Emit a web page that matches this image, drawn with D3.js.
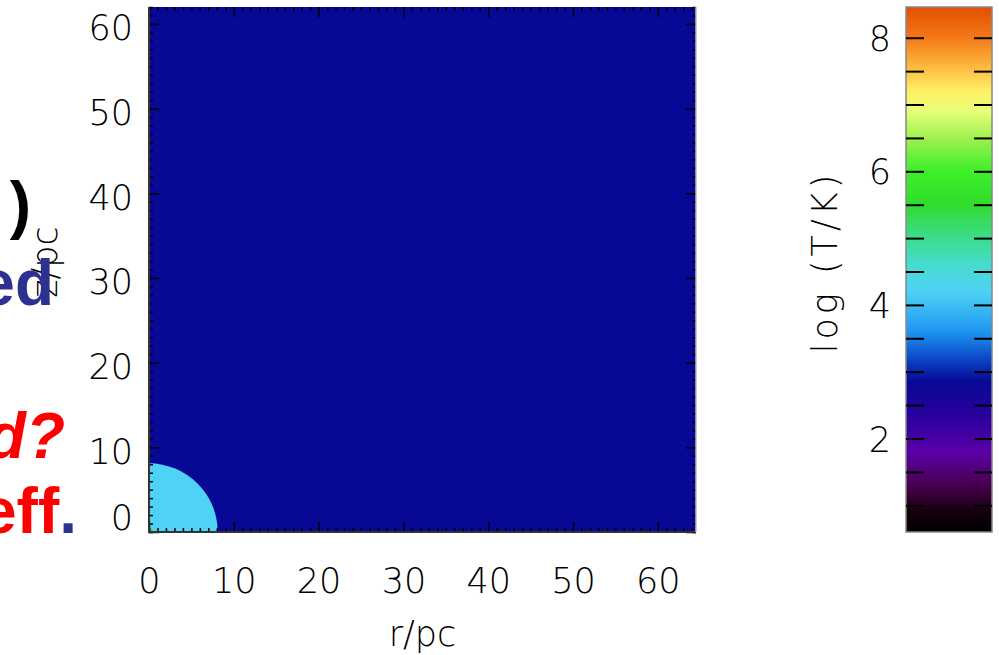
<!DOCTYPE html>
<html>
<head>
<meta charset="utf-8">
<script src="https://cdn.jsdelivr.net/npm/d3@7"></script>
<style>
  body { margin: 0; background: #fff; }
  .tk text { font-family: "DejaVu Sans", sans-serif; font-weight: 200; }
</style>
</head>
<body>
<div id="chart"></div>
<script>
// axis ticks and domains
var xTicks = [0, 10, 20, 30, 40, 50, 60];
var yTicks = [0, 10, 20, 30, 40, 50, 60];
var xDomain = [0, 64.5];
var yDomain = [0, 62];

// temperature field: ambient medium, cloud (quarter sphere), tiny hot core
var ambientLogT = 2.85;
var cloudRadius = 8.1;
var cloudLogT = 4.2;
var coreSize = 0.4;
var coreLogT = 5.6;

// colour bar
var cbDomain = [0.6, 8.46];
var cbTicks = [2, 4, 6, 8];
var cbStopValues = [0.6, 0.9, 1.3, 1.8, 2.3, 2.85, 3.2, 3.6, 4.2, 4.6, 5.0, 5.5, 6.0, 6.5, 6.9, 7.2, 7.6, 8.0, 8.46];
var cbStopColors = ["#000000", "#14000c", "#48004e", "#5a00a8", "#2c009e", "#080896", "#0a48c8",
  "#1e96f0", "#4ed2f5", "#46dcd0", "#3cdc8c", "#30dc2c", "#3cf028", "#a0f050", "#e6ff78",
  "#fff064", "#fcb43c", "#f57818", "#e05000"];

// slide text fragments at the left edge
var slideText = [
  { parts: [[")", "#000"]], x: 31, y: 227, italic: false },
  { parts: [["ed", "#2e3192"]], x: 54, y: 305, italic: false },
  { parts: [["d?", "#ff0000"]], x: 65, y: 458, italic: true },
  { parts: [["eff", "#ff0000"], [".", "#2e3192"]], x: 77, y: 533, italic: false }
];

var W = 999, H = 655;
var plot = { left: 149, right: 696, top: 7, bottom: 532 };
var cb = { left: 906, right: 992, top: 7, bottom: 532 };

var svg = d3.select("#chart").append("svg").attr("width", W).attr("height", H);

var x = d3.scaleLinear().domain(xDomain).range([plot.left, plot.right]);
var y = d3.scaleLinear().domain(yDomain).range([plot.bottom, plot.top]);
var cbY = d3.scaleLinear().domain(cbDomain).range([cb.bottom, cb.top]);
var color = d3.scaleLinear().domain(cbStopValues).range(cbStopColors);

// y label (partly hidden by slide text)
svg.append("text")
  .attr("transform", "translate(57,262) rotate(-90)")
  .attr("text-anchor", "middle")
  .style("font-family", "DejaVu Sans, sans-serif").style("font-weight", 200)
  .style("font-size", "35px")
  .text("z/pc");

// plot image
var defs = svg.append("defs");
defs.append("clipPath").attr("id", "pclip").append("rect")
  .attr("x", plot.left).attr("y", plot.top)
  .attr("width", plot.right - plot.left).attr("height", plot.bottom - plot.top);

var img = svg.append("g").attr("clip-path", "url(#pclip)");
img.append("rect")
  .attr("x", x(xDomain[0])).attr("y", y(yDomain[1]))
  .attr("width", x(xDomain[1]) - x(xDomain[0]))
  .attr("height", y(yDomain[0]) - y(yDomain[1]))
  .attr("fill", color(ambientLogT));
img.append("circle")
  .attr("cx", x(0)).attr("cy", y(0))
  .attr("r", x(cloudRadius) - x(0))
  .attr("fill", color(cloudLogT));
img.append("rect")
  .attr("x", x(0)).attr("y", y(coreSize))
  .attr("width", x(coreSize) - x(0)).attr("height", y(0) - y(coreSize))
  .attr("fill", color(coreLogT));

// inward ticks on all four sides
var minor = d3.range(0, 65, 1);
function ticks(axis, tx, ty, vals, size) {
  svg.append("g").attr("transform", "translate(" + tx + "," + ty + ")")
    .call(axis.tickValues(vals).tickSize(size).tickFormat(""))
    .call(function (g) { g.select(".domain").remove(); })
    .selectAll("line").attr("stroke", "#000").attr("stroke-width", 1.5);
}
ticks(d3.axisTop(x), 0, plot.bottom, minor, 4);
ticks(d3.axisTop(x), 0, plot.bottom, xTicks, 10);
ticks(d3.axisBottom(x), 0, plot.top, minor, 4);
ticks(d3.axisBottom(x), 0, plot.top, xTicks, 10);
ticks(d3.axisRight(y), plot.left, 0, minor.filter(function (v) { return v <= 62; }), 4);
ticks(d3.axisRight(y), plot.left, 0, yTicks, 10);
ticks(d3.axisLeft(y), plot.right, 0, minor.filter(function (v) { return v <= 62; }), 4);
ticks(d3.axisLeft(y), plot.right, 0, yTicks, 10);

// frame
svg.append("path")
  .attr("d", "M" + plot.left + "," + plot.top + "V" + plot.bottom + "H" + plot.right)
  .attr("fill", "none").attr("stroke", "#333").attr("stroke-width", 2);
svg.append("path")
  .attr("d", "M" + plot.right + "," + plot.bottom + "V" + plot.top)
  .attr("fill", "none").attr("stroke", "#bbb").attr("stroke-width", 1.5);

// tick labels
var xa = svg.append("g").attr("class", "tk")
  .attr("transform", "translate(0," + plot.bottom + ")")
  .call(d3.axisBottom(x).tickValues(xTicks).tickSize(0).tickPadding(36));
xa.select(".domain").remove();
xa.selectAll("text").style("font-size", "35px").attr("fill", "#000");

var ya = svg.append("g").attr("class", "tk")
  .attr("transform", "translate(" + (plot.left - 16) + ",0)")
  .call(d3.axisLeft(y).tickValues(yTicks).tickSize(0).tickPadding(0));
ya.select(".domain").remove();
ya.selectAll("text").style("font-size", "35px").attr("fill", "#000")
  .attr("dy", function (d) { return d === 0 ? "-0.08em" : "0.45em"; });

svg.append("text")
  .attr("x", (plot.left + plot.right) / 2).attr("y", 646)
  .attr("text-anchor", "middle")
  .style("font-family", "DejaVu Sans, sans-serif").style("font-weight", 200)
  .style("font-size", "35px")
  .text("r/pc");

// colour bar
var grad = defs.append("linearGradient").attr("id", "cbgrad")
  .attr("x1", 0).attr("y1", 1).attr("x2", 0).attr("y2", 0);
cbStopValues.forEach(function (v, i) {
  grad.append("stop")
    .attr("offset", (v - cbDomain[0]) / (cbDomain[1] - cbDomain[0]))
    .attr("stop-color", cbStopColors[i]);
});
svg.append("rect")
  .attr("x", cb.left).attr("y", cb.top)
  .attr("width", cb.right - cb.left).attr("height", cb.bottom - cb.top)
  .attr("fill", "url(#cbgrad)")
  .attr("stroke", "#888").attr("stroke-width", 1.5);

var cbMinor = d3.range(1, 8.01, 0.5);
svg.append("g").attr("transform", "translate(" + cb.left + ",0)")
  .call(d3.axisRight(cbY).tickValues(cbMinor).tickSize(18).tickFormat(""))
  .call(function (g) { g.select(".domain").remove(); })
  .selectAll("line").attr("stroke", "#000").attr("stroke-width", 2);
svg.append("g").attr("transform", "translate(" + cb.right + ",0)")
  .call(d3.axisLeft(cbY).tickValues(cbMinor).tickSize(18).tickFormat(""))
  .call(function (g) { g.select(".domain").remove(); })
  .selectAll("line").attr("stroke", "#000").attr("stroke-width", 2);

var cba = svg.append("g").attr("class", "tk")
  .attr("transform", "translate(" + (cb.left - 15) + ",0)")
  .call(d3.axisLeft(cbY).tickValues(cbTicks).tickSize(0).tickPadding(0));
cba.select(".domain").remove();
cba.selectAll("text").style("font-size", "35px").attr("fill", "#000").attr("dy", "0.36em");

svg.append("text")
  .attr("transform", "translate(837,262) rotate(-90)")
  .attr("text-anchor", "middle")
  .style("font-family", "DejaVu Sans, sans-serif").style("font-weight", 200)
  .style("font-size", "35px").style("letter-spacing", "4px")
  .text("log (T/K)");

// slide text on top
slideText.forEach(function (t) {
  var el = svg.append("text")
    .attr("x", t.x).attr("y", t.y)
    .attr("text-anchor", "end")
    .style("font-family", "Liberation Sans, Arial, sans-serif")
    .style("font-weight", "bold")
    .style("font-style", t.italic ? "italic" : "normal")
    .style("font-size", "64px");
  t.parts.forEach(function (p) {
    el.append("tspan").attr("fill", p[1]).text(p[0]);
  });
});
</script>
</body>
</html>
